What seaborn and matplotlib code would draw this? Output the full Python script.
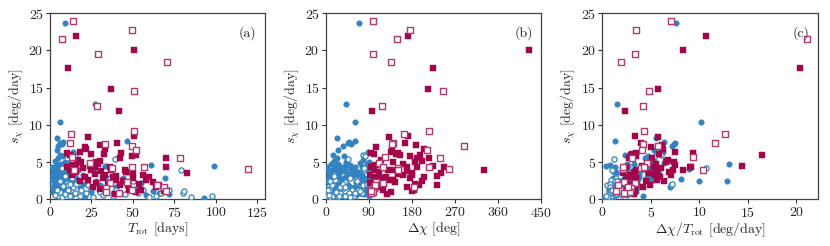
import numpy as np
import pandas as pd
import matplotlib
matplotlib.use("Agg")
import matplotlib.pyplot as plt
import seaborn as sns

# ---------------- data (T_rot [days], delta chi [deg], s_chi [deg/day]) ----------------
bf_trot = [9.0, 27.1, 6.0, 4.0, 46.7, 7.6, 6.0, 5.0, 7.0, 4.5, 14, 99.3, 93, 69.6, 45.7, 60.8,
           5.6, 6.5, 8.5, 10, 9.5,
           2, 2.5, 3, 3, 3.5, 4, 4, 4.5, 5, 5, 5.5, 6, 6, 6.5, 7, 7, 7.5, 8, 8, 8.5, 9, 9, 10, 10,
           11, 12, 12, 13, 14, 15, 16, 17, 18, 20, 20, 22, 24, 25, 26, 28, 30, 32, 35, 38, 40, 44,
           48, 52, 55, 58, 62, 66, 72, 3, 5, 8, 4, 6, 1, 1.5, 1.2,
           18, 25, 33, 21, 12, 16, 11, 3, 2, 2, 3.5, 4.5, 7, 9, 11, 14, 1.5, 13]
bf_dchi = [68, 42, 61, 22, 60, 48, 45, 36, 52, 24, 87, 40, 15, 75, 55, 50,
           72, 85, 85, 81, 85,
           5, 8, 10, 6, 12, 15, 9, 20, 18, 25, 14, 28, 20, 30, 22, 35, 12, 40, 26, 30, 45, 18, 50, 33,
           28, 55, 40, 62, 48, 70, 38, 58, 65, 75, 44, 80, 60, 52, 85, 70, 78, 65, 88, 72, 58, 80,
           66, 84, 70, 62, 88, 74, 80, 16, 22, 38, 10, 14, 3, 4, 6,
           89, 88, 86, 89, 84, 78, 70, 12, 7, 4, 18, 26, 32, 42, 60, 75, 2, 33]
bf_s = [23.7, 12.8, 10.4, 8.2, 7.8, 7.7, 7.5, 7.2, 7.4, 6.6, 6.4, 4.5, 0.2, 2.9, 3.6, 4.6,
        2.4, 4.7, 2.4, 2.7, 4.1,
        4.0, 3.5, 2.0, 1.5, 2.5, 3.0, 1.8, 4.3, 2.2, 3.2, 1.2, 2.8, 4.0, 3.6, 1.6, 2.5, 0.9, 3.0, 4.8,
        2.0, 3.4, 1.4, 4.2, 2.6, 1.1, 3.0, 3.8, 2.3, 1.8, 3.5, 2.9, 4.0, 1.5, 3.2, 2.1, 2.7, 4.4, 1.3,
        3.9, 2.4, 1.9, 3.3, 2.6, 0.8, 1.7, 2.9, 3.6, 1.4, 2.2, 0.6, 1.1, 0.9, 0.7, 5.2, 5.6, 5.8, 4.7,
        6.0, 2.6, 1.7, 3.2,
        5.0, 1.0, 4.5, 0.5, 1.6, 5.3, 4.9, 3.9, 2.9, 1.0, 4.5, 3.8, 4.4, 5.0, 3.7, 4.4, 4.4, 0.6]

bo_trot = [5, 6, 7, 8, 9, 10, 11, 12, 13, 14, 15, 16, 18, 19, 20, 22, 23, 25, 26, 28, 30, 32, 34,
           36, 38, 39, 40, 42, 45, 48, 50, 53, 56, 60, 64, 67, 72, 79, 80, 81, 85, 98, 13, 11, 12,
           7.5, 15, 3, 4, 6, 9]
bo_dchi = [3, 5, 8, 6, 10, 12, 8, 15, 18, 10, 20, 14, 22, 25, 18, 30, 12, 35, 24, 40, 20, 45, 30,
           50, 28, 45, 55, 35, 60, 40, 65, 48, 70, 52, 58, 75, 66, 80, 60, 72, 50, 40, 78, 78, 86,
           80, 82, 6, 4, 9, 16]
bo_s = [0.5, 1.0, 0.3, 1.8, 0.7, 2.2, 1.3, 0.4, 2.8, 1.6, 0.9, 2.0, 0.5, 1.2, 2.6, 0.8, 1.9, 1.5,
        0.3, 2.3, 1.0, 0.6, 1.7, 2.9, 0.4, 5.4, 1.3, 2.1, 0.7, 1.6, 2.5, 0.9, 1.2, 0.3, 0.5, 0.8,
        1.2, 4.0, 0.8, 1.1, 0.3, 0.4, 6.0, 1.9, 2.0, 4.2, 5.8, 0.6, 1.2, 2.4, 3.1]

rf_trot = [16, 11, 50.8, 37.1, 41.7, 23.1, 50.8, 30.5, 20.9, 40.7, 33.5, 22, 25, 12, 10, 18, 32.7,
           43, 49.8, 51.8, 70, 70, 83, 45, 15.6, 27, 10.5, 12, 14, 16, 18, 20, 21, 23, 24, 25, 26,
           27, 28, 29, 30, 31, 32, 33, 39, 35, 36, 37, 38, 40, 42, 44, 46, 48, 50, 52, 54, 56, 58,
           60, 62, 64, 66, 69, 55, 47, 50, 40, 19, 17, 13, 30, 42, 28]
rf_dchi = [171, 224, 424, 214, 97, 132, 171, 188, 105, 164, 205, 137, 146, 197, 93, 135, 100,
           150, 175, 155, 190, 170, 180, 330, 224, 246, 95, 100, 105, 110, 115, 120, 125, 130, 98,
           140, 108, 150, 92, 160, 102, 170, 112, 180, 127, 122, 190, 130, 100, 140, 110, 200, 150,
           120, 175, 135, 185, 160, 140, 205, 145, 170, 195, 180, 183, 232, 241, 232, 140, 115, 92,
           200, 215, 185]
rf_s = [22.0, 17.6, 20.1, 14.8, 11.8, 8.4, 8.5, 7.3, 7.0, 7.5, 6.8, 6.7, 6.1, 6.0, 6.2, 6.3, 6.1,
        6.2, 5.8, 5.9, 5.5, 4.4, 3.5, 3.9, 4.5, 4.4, 4.3, 4.0, 4.6, 3.6, 2.5, 4.2, 3.0, 2.6, 4.5,
        3.9, 1.7, 3.4, 2.2, 4.8, 1.4, 3.8, 2.9, 3.3, 0.7, 2.0, 4.4, 4.0, 3.0, 2.6, 1.9, 2.4, 3.6,
        1.3, 2.8, 1.0, 2.0, 3.2, 2.6, 3.0, 2.3, 1.6, 1.9, 1.1, 1.2, 1.9, 3.5, 3.1, 5.0, 5.3, 3.3,
        5.2, 5.5, 5.0]

ro_trot = [14, 49.8, 7, 28.7, 70.6, 50.8, 28.1, 50.8, 12.8, 12, 33.1, 49.8, 51.8, 13.2, 78.7, 119.4,
           24.1, 37.7, 49.8, 56.6, 36.1, 46.7, 49.8, 34, 34, 41.7, 64.6, 68.8, 69.8, 14.5]
ro_dchi = [99, 175, 148, 98, 136, 244, 117, 216, 162, 139, 138, 288, 211, 124, 238, 256,
           110, 150, 215, 120, 120, 105, 92, 100, 98, 95, 102, 183, 95, 150]
ro_s = [23.9, 22.8, 21.6, 19.5, 18.5, 14.5, 12.6, 9.2, 8.8, 7.5, 7.4, 7.1, 6.6, 5.7, 5.5, 4.1,
        4.9, 4.2, 4.3, 4.4, 2.2, 2.3, 1.3, 1.5, 1.0, 0.9, 1.9, 1.7, 1.1, 3.9]

panel_labels = ["(a)", "(b)", "(c)"]
x_labels = [r"$T_{\rm rot}$ [days]", r"$\Delta\chi$ [deg]", r"$\Delta\chi/T_{\rm rot}$ [deg/day]"]
y_label = r"$s_\chi$ [deg/day]"

BLUE = "#3283bf"
RED = "#a3054a"
RED_EDGE = "#b23a6e"

def frame(t, d, s, g):
    df = pd.DataFrame({"trot": t, "dchi": d, "s": s})
    df["rate"] = df["dchi"] / df["trot"]
    df["group"] = g
    return df

data = pd.concat([frame(bf_trot, bf_dchi, bf_s, "bf"), frame(bo_trot, bo_dchi, bo_s, "bo"),
                  frame(rf_trot, rf_dchi, rf_s, "rf"), frame(ro_trot, ro_dchi, ro_s, "ro")],
                 ignore_index=True)

sns.set_style("ticks")
plt.rcParams["font.family"] = "serif"
plt.rcParams["font.serif"] = ["cmr10", "DejaVu Serif"]
plt.rcParams["mathtext.fontset"] = "cm"
plt.rcParams["axes.formatter.use_mathtext"] = True
plt.rcParams["axes.unicode_minus"] = False

fig = plt.figure(figsize=(8.3, 2.46), dpi=100)
lefts = [0.0602, 0.3928, 0.7257]
axes = [fig.add_axes([l, 0.190, 0.2595, 0.756]) for l in lefts]

styles = {
    "bf": dict(marker="o", color=BLUE, edgecolor=BLUE, linewidth=0.3, s=16),
    "bo": dict(marker="o", color="white", edgecolor=BLUE, linewidth=0.9, s=14),
    "rf": dict(marker="s", color=RED, edgecolor=RED, linewidth=0.3, s=16),
    "ro": dict(marker="s", color="white", edgecolor=RED_EDGE, linewidth=1.0, s=14),
}
xcols = ["trot", "dchi", "rate"]
xlims = [(0, 130), (0, 450), (0, 22.2)]
xticks = [[0, 25, 50, 75, 100, 125], [0, 90, 180, 270, 360, 450], [0, 5, 10, 15, 20]]

for i, ax in enumerate(axes):
    for g in ["bf", "bo", "rf", "ro"]:
        sub = data[data["group"] == g]
        sns.scatterplot(data=sub, x=xcols[i], y="s", ax=ax, legend=False, zorder=3, **styles[g])
    ax.set_xlim(*xlims[i])
    ax.set_ylim(0, 25)
    ax.set_xticks(xticks[i])
    ax.set_yticks([0, 5, 10, 15, 20, 25])
    ax.set_xlabel(x_labels[i], fontsize=10, labelpad=1)
    ax.set_ylabel(y_label, fontsize=10, labelpad=2)
    ax.tick_params(labelsize=10, length=3, width=0.8, pad=1.5, color="#333333")
    for sp in ax.spines.values():
        sp.set_color("#444444")
        sp.set_linewidth(0.9)
    ax.text(0.96, 0.93, panel_labels[i], transform=ax.transAxes, ha="right", va="top", fontsize=10)

fig.savefig("out.png", dpi=100)
